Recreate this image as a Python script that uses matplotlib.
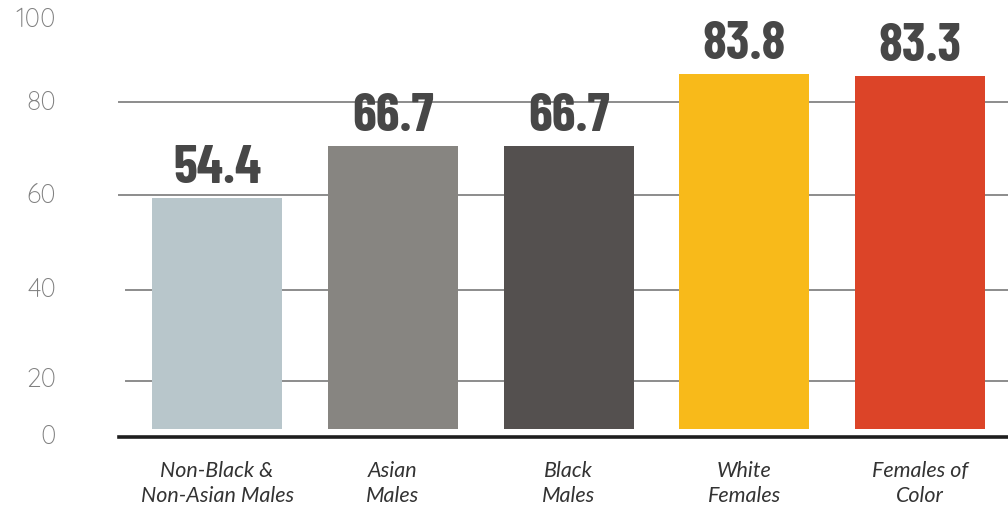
import matplotlib.pyplot as plt
import matplotlib.transforms as mtransforms

# data
groups = ["Non-Black &\nNon-Asian Males", "Asian\nMales", "Black\nMales",
          "White\nFemales", "Females of\nColor"]
values = [54.4, 66.7, 66.7, 83.8, 83.3]
colors = ["#b8c6cb", "#878581", "#54504f", "#f8ba1a", "#dc4428"]

# axis labels as drawn in the picture (positions in bar units)
tick_labels = ["0", "20", "40", "60", "80", "100"]
tick_pos = [-1.7, 11.6, 32.8, 55.0, 77.1, 96.5]
grid_pos = [11.3, 32.8, 55.2, 77.1]
grid_start = [126, 126, 119, 119]   # pixel x where each gridline starts
base_pos = -1.9

fig = plt.figure(figsize=(10.08, 5.08), dpi=100)
ax = fig.add_axes([0, 0, 1, 1])
ax.set_xlim(-1.235, 4.50)
ax.set_ylim(-18.63, 101.18)
ax.axis("off")

x = list(range(len(values)))

# gridlines
for g, s in zip(grid_pos, grid_start):
    ax.axhline(g, xmin=s / 1008, xmax=1, color="#8c8c8c", lw=1.4, zorder=1)
ax.axhline(base_pos, xmin=119 / 1008, xmax=1, color="#1e1e1e", lw=2.6, zorder=3)

# bars
ax.bar(x, values, width=0.74, color=colors, zorder=2)

# value labels
for xi, v in zip(x, values):
    ax.annotate(f"{v:.1f}", (xi, v), xytext=(0, 3.5), textcoords="offset points",
                ha="center", va="bottom", fontsize=39, fontweight=700,
                family="Barlow Condensed", color="#474747")

# y tick labels
trans = mtransforms.blended_transform_factory(ax.transAxes, ax.transData)
for lab, p in zip(tick_labels, tick_pos):
    ax.text(56 / 1008, p, lab, transform=trans, ha="right", va="center",
            fontsize=19, family=["Quicksand", "Montserrat", "Lato"],
            color="#808080")

# category labels
for xi, g in zip(x, groups):
    ax.text(xi, -12.85, g, ha="center", va="center", fontsize=15.5,
            family="Lato", style="italic", color="#333333", linespacing=1.3)

plt.savefig("out.png", dpi=100)
